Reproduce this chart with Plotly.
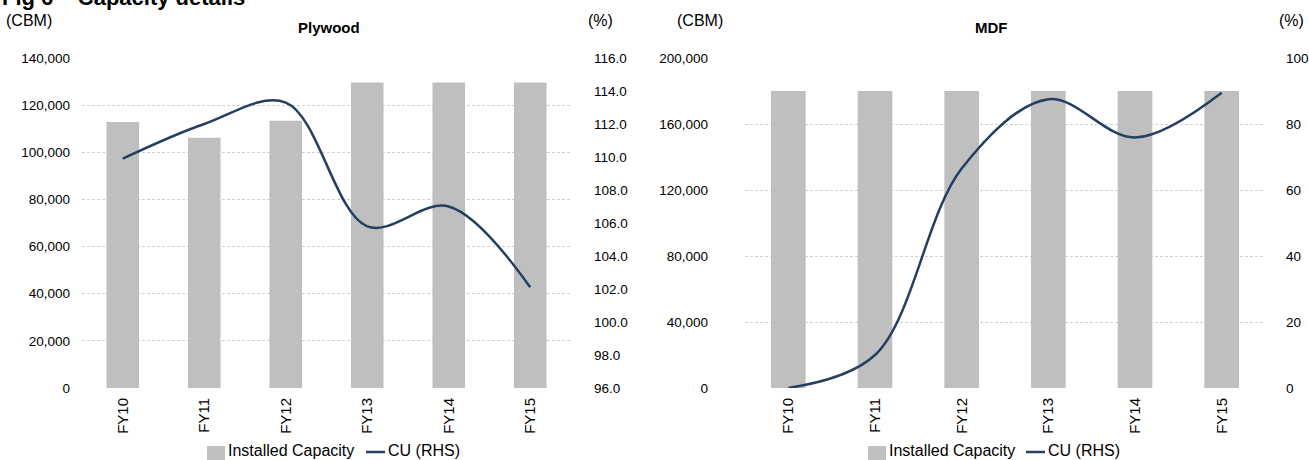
import plotly.graph_objects as go

# Fiscal years shown on both panels
years = ["FY10", "FY11", "FY12", "FY13", "FY14", "FY15"]

# Plywood: installed capacity (CBM) and capacity utilisation (%)
plywood_capacity = [112900, 106200, 113400, 129600, 129600, 129600]
plywood_cu = [109.9, 112.0, 113.3, 105.8, 107.0, 102.1]

# MDF: installed capacity (CBM) and capacity utilisation (%)
mdf_capacity = [180000, 180000, 180000, 180000, 180000, 180000]
mdf_cu = [0.0, 10.0, 66.5, 87.5, 75.9, 89.5]

W, H = 1309, 460
FONT = "Liberation Sans, Arial, sans-serif"
BAR = "#bfbfbf"
LINE = "#243f60"
GRID = "#d0d0d0"
TXT = "#000000"


def px_x(p):
    return p / W


def px_y(p):
    return 1 - p / H


y_dom = [px_y(388), px_y(58)]

fig = go.Figure()

# Plywood panel
fig.add_trace(go.Bar(x=years, y=plywood_capacity, name="Installed Capacity",
                     marker=dict(color=BAR, line=dict(width=0)), xaxis="x", yaxis="y"))
fig.add_trace(go.Scatter(x=years, y=plywood_cu, name="CU (RHS)", mode="lines",
                         line=dict(color=LINE, width=2.5, shape="spline", smoothing=1.0),
                         xaxis="x", yaxis="y2"))

# MDF panel
fig.add_trace(go.Bar(x=years, y=mdf_capacity, name="Installed Capacity",
                     marker=dict(color=BAR, line=dict(width=0)), xaxis="x2", yaxis="y3"))
fig.add_trace(go.Scatter(x=years, y=mdf_cu, name="CU (RHS)", mode="lines",
                         line=dict(color=LINE, width=2.5, shape="spline", smoothing=1.0),
                         xaxis="x2", yaxis="y4"))

ytick_font = dict(family=FONT, size=13.5, color=TXT)
xtick_font = dict(family=FONT, size=15, color=TXT)

xaxis_common = dict(type="category", tickangle=-90, showgrid=False, zeroline=False,
                    showline=False, ticks="", tickfont=xtick_font, automargin=False)
left_common = dict(showgrid=True, gridcolor=GRID, griddash="3px,2px", gridwidth=1,
                   zeroline=False, showline=False, ticks="", tickfont=ytick_font,
                   tickformat=",d", automargin=False)
right_common = dict(showgrid=False, zeroline=False, showline=False, ticks="",
                    tickfont=ytick_font, side="right", automargin=False)

fig.update_layout(
    width=W, height=H,
    margin=dict(l=0, r=0, t=0, b=0, autoexpand=False),
    paper_bgcolor="white", plot_bgcolor="white",
    bargap=0.6,
    showlegend=False,
    font=dict(family=FONT, size=15, color=TXT),
    xaxis=dict(domain=[px_x(82), px_x(571)], anchor="y", ticklabelstandoff=6, **xaxis_common),
    yaxis=dict(domain=y_dom, anchor="x", range=[0, 140000], dtick=20000,
               ticklabelstandoff=11, **left_common),
    yaxis2=dict(overlaying="y", anchor="x", range=[96, 116], dtick=2, tickformat=".1f",
                ticklabelstandoff=22, **right_common),
    xaxis2=dict(domain=[px_x(745), px_x(1265)], anchor="y3", ticklabelstandoff=6,
                **xaxis_common),
    yaxis3=dict(domain=y_dom, anchor="x2", range=[0, 200000], dtick=40000,
                ticklabelstandoff=36, **left_common),
    yaxis4=dict(overlaying="y3", anchor="x2", range=[0, 100], dtick=20, tickformat="d",
                ticklabelstandoff=20, **right_common),
)

ann = [
    dict(text="<b>Fig 6 – Capacity details</b>", x=0, xanchor="left", y=1.0, yanchor="middle",
         yshift=3, font=dict(size=22)),
    dict(text="(CBM)", x=px_x(4), xanchor="left", y=px_y(21), yanchor="middle",
         font=dict(size=16)),
    dict(text="<b>Plywood</b>", x=px_x(329), xanchor="center", y=px_y(28), yanchor="middle",
         font=dict(size=15)),
    dict(text="(%)", x=px_x(615), xanchor="right", y=px_y(21), yanchor="middle",
         font=dict(size=16)),
    dict(text="(CBM)", x=px_x(675), xanchor="left", y=px_y(21), yanchor="middle",
         font=dict(size=16)),
    dict(text="<b>MDF</b>", x=px_x(991), xanchor="center", y=px_y(28), yanchor="middle",
         font=dict(size=15)),
    dict(text="(%)", x=px_x(1306), xanchor="right", y=px_y(21), yanchor="middle",
         font=dict(size=16)),
]

# Legend keys for each panel: grey swatch for capacity, navy stroke for CU
legend_rows = [(207, 366), (868, 1026)]
for sw_x, ln_x in legend_rows:
    fig.add_shape(type="rect", xref="paper", yref="paper",
                  x0=px_x(sw_x), x1=px_x(sw_x + 18), y0=px_y(462), y1=px_y(446),
                  fillcolor=BAR, line=dict(width=0))
    fig.add_shape(type="line", xref="paper", yref="paper",
                  x0=px_x(ln_x), x1=px_x(ln_x + 19), y0=px_y(452), y1=px_y(452),
                  line=dict(color=LINE, width=2.5))
    ann.append(dict(text="Installed Capacity", x=px_x(sw_x + 19), xanchor="left",
                    y=px_y(450), yanchor="middle", font=dict(size=16)))
    ann.append(dict(text="CU (RHS)", x=px_x(ln_x + 20), xanchor="left",
                    y=px_y(450), yanchor="middle", font=dict(size=16)))

for a in ann:
    f = a.pop("font")
    fig.add_annotation(xref="paper", yref="paper", showarrow=False,
                       font=dict(family=FONT, color=TXT, **f), **a)

fig.write_html("out.html")
